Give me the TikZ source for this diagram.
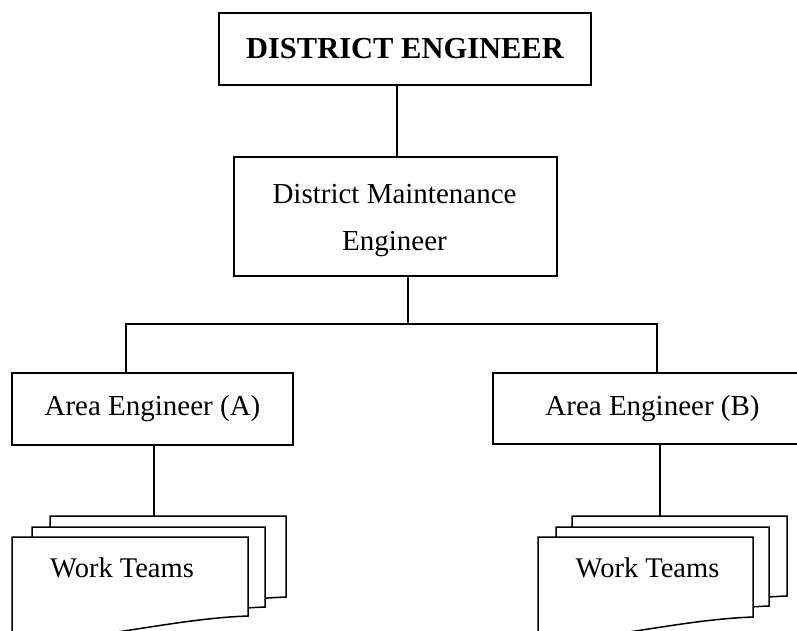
\documentclass[tikz,border=0pt]{standalone}
\usepackage{fontspec}
\setmainfont{Liberation Serif}
\usetikzlibrary{calc}

% one sheet of a stacked "document" symbol: left, top, right, bottom-right
\newcommand\worksheet[4]{%
  \path[sheet] (#1,#2) -- (#3,#2) -- (#3,#4)
    .. controls ($(#3,#4)+(-58,2)$) and ($(#3,#4)+(-118,16)$) .. ($(#3,#4)+(-178,22)$)
    .. controls ($(#3,#4)+(-200,24)$) and ($(#1,#4)+(15,24)$) .. ($(#1,#4)+(0,20)$)
    -- cycle;}

\begin{document}
\begin{tikzpicture}[x=1pt,y=-1pt,
  box/.style={draw, line width=1.5pt, inner sep=0pt, align=center,
              font=\fontsize{29}{47}\selectfont},
  link/.style={line width=1.4pt},
  sheet/.style={draw, fill=white, line width=1.5pt, line join=miter},
  caption/.style={inner sep=0pt, font=\fontsize{28.5}{34}\selectfont}]
\useasboundingbox (0,0) rectangle (797,630);
\clip (0,0) rectangle (797,630);

% hierarchy boxes
\node[box, minimum width=372pt, minimum height=72pt,
      font=\fontsize{30.5}{36}\selectfont\bfseries] (de) at (405,49) {DISTRICT ENGINEER};
\node[box, minimum width=323pt, minimum height=119pt] (dme) at (395.5,216.5) {};
\node[inner sep=0pt, align=center, font=\fontsize{29}{47}\selectfont] (dmetext) at (394.5,221)
      {District Maintenance\\Engineer};
\node[box, minimum width=281pt, minimum height=72pt] (aa) at (152.5,409) {Area Engineer (A)};
\node[box, minimum width=319pt, minimum height=71pt] (ab) at (652.5,408.5) {Area Engineer (B)};

% connectors
\coordinate (k1) at (397,0);
\draw[link] (de.south -| k1) -- (k1 |- dme.north);
\coordinate (hub) at (408,324);
\coordinate (ha) at (126,324);
\coordinate (hb) at (657,324);
\draw[link] (hub |- dme.south) -- (hub);
\draw[link] (ha |- aa.north) -- (ha) -- (hb) -- (hb |- ab.north);
\coordinate (ta) at (154,516);
\coordinate (tb) at (660,516);
\draw[link] (ta |- aa.south) -- (ta);
\draw[link] (tb |- ab.south) -- (tb);

% stacked work-team sheets, back to front
\worksheet{50}{516}{286}{597}
\worksheet{32}{527}{265}{607}
\worksheet{12}{537}{248}{616}
\worksheet{572}{516}{787}{596}
\worksheet{556}{527}{769}{606}
\worksheet{538}{537}{753}{617}

\node[caption] (wta) at (122,568) {Work Teams};
\node[caption] (wtb) at (647.5,568) {Work Teams};
\end{tikzpicture}
\end{document}
